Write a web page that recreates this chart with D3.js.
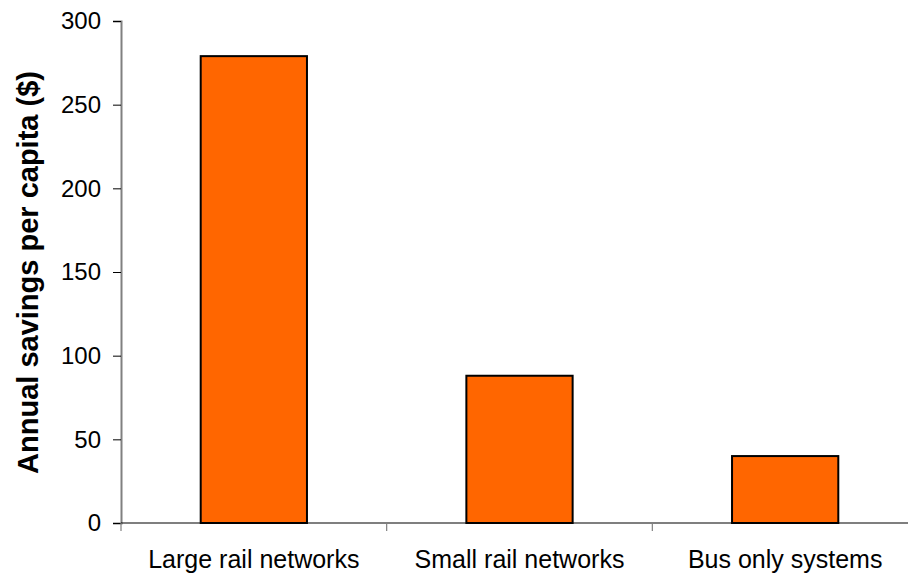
<!DOCTYPE html>
<html><head><meta charset="utf-8">
<script src="https://cdn.jsdelivr.net/npm/d3@7/dist/d3.min.js"></script>
<style>body{margin:0;background:#fff;}svg{display:block;font-family:"Liberation Sans",Arial,sans-serif;}</style>
</head><body>
<svg id="c" width="908" height="576"></svg>
<script>
const categories = ["Large rail networks", "Small rail networks", "Bus only systems"];
const values = [279, 88, 40];
const yTicks = [0, 50, 100, 150, 200, 250, 300];
const yLabel = "Annual savings per capita ($)";

const svg = d3.select("#c");
const x0 = 121, x1 = 918, yTop = 21, yBot = 523;
const x = d3.scaleBand().domain(categories).range([x0, x1]).paddingInner(0.6).paddingOuter(0.3);
const y = d3.scaleLinear().domain([0, 300]).range([yBot, yTop]);

// bars
svg.selectAll("rect.bar").data(values).join("rect")
  .attr("x", (d,i) => x(categories[i]))
  .attr("y", d => y(d))
  .attr("width", x.bandwidth())
  .attr("height", d => y(0) - y(d))
  .attr("fill", "#ff6600")
  .attr("stroke", "#000").attr("stroke-width", 2);

// y axis
const ya = svg.append("g").attr("transform", `translate(${x0},0)`)
  .call(d3.axisLeft(y).tickValues(yTicks).tickSize(8).tickPadding(12));
ya.select(".domain").attr("stroke", "#808080").attr("stroke-width", 2);
ya.selectAll(".tick line").attr("stroke", "#000");
ya.selectAll("text").attr("font-size", 24).attr("fill", "#000").attr("font-family", "Liberation Sans, Arial, sans-serif");

// x axis with ticks at band boundaries
const boundaries = [x0, (x(categories[0]) + x.bandwidth() + x(categories[1]))/2, (x(categories[1]) + x.bandwidth() + x(categories[2]))/2, x1];
svg.append("line").attr("x1", x0).attr("x2", x1).attr("y1", yBot).attr("y2", yBot).attr("stroke", "#000").attr("stroke-width", 1.2);
svg.selectAll("line.xt").data(boundaries).join("line")
  .attr("x1", d => d).attr("x2", d => d).attr("y1", yBot).attr("y2", yBot + 8)
  .attr("stroke", "#808080").attr("stroke-width", 1.2);
svg.selectAll("text.xl").data(categories).join("text")
  .attr("x", d => x(d) + x.bandwidth()/2).attr("y", 568)
  .attr("text-anchor", "middle").attr("font-size", 25).attr("fill", "#000")
  .text(d => d);

// y label
svg.append("text").attr("transform", `translate(38,272.5) rotate(-90)`)
  .attr("text-anchor", "middle").attr("font-size", 29).attr("font-weight", "bold")
  .text(yLabel);
</script>
</body></html>
